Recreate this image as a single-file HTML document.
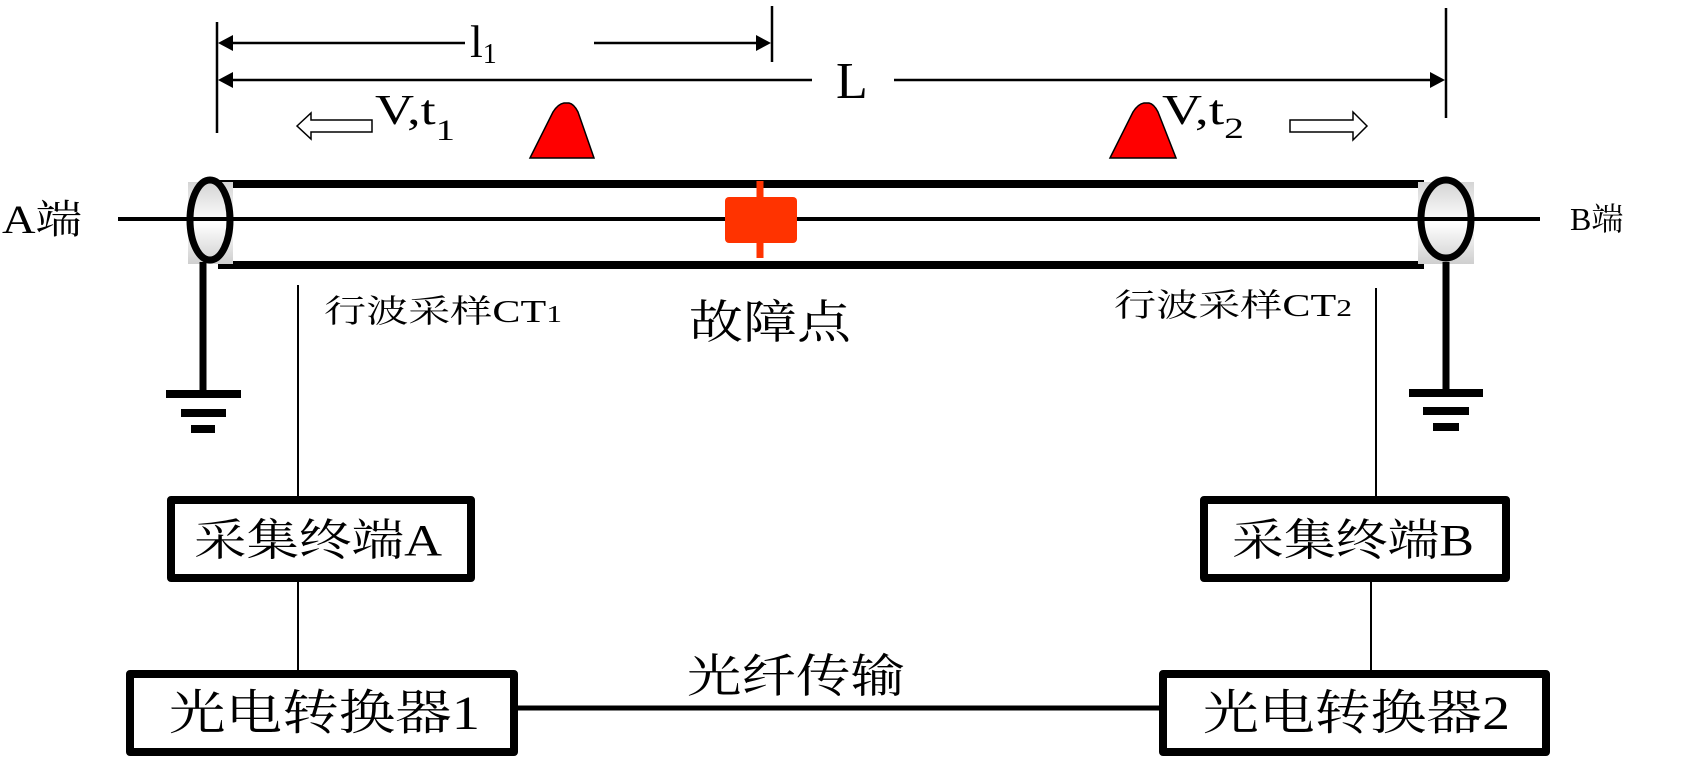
<!DOCTYPE html>
<html><head><meta charset="utf-8"><style>
html,body{margin:0;padding:0;background:#fff;width:1706px;height:757px;overflow:hidden}
text{font-family:"Liberation Serif","Noto Serif CJK SC",serif;fill:#000}
</style></head><body>
<svg width="1706" height="757" viewBox="0 0 1706 757" xmlns="http://www.w3.org/2000/svg">
<defs>
<linearGradient id="g" x1="0" y1="0" x2="0" y2="1"><stop offset="0" stop-color="#d4d4d4"/><stop offset="0.5" stop-color="#fff"/><stop offset="1" stop-color="#cfcfcf"/></linearGradient>
</defs>
<g stroke="#000" stroke-width="2.5" fill="none">
<line x1="217" y1="22" x2="217" y2="133"/>
<line x1="1446" y1="8" x2="1446" y2="118"/>
<line x1="772" y1="6" x2="772" y2="62"/>
<line x1="222" y1="43" x2="465" y2="43"/>
<line x1="594" y1="43" x2="760" y2="43"/>
<line x1="222" y1="80" x2="812" y2="80"/>
<line x1="894" y1="80" x2="1434" y2="80"/>
</g>
<polygon points="218,43 233,35 233,51" fill="#000"/>
<polygon points="218,80 233,72 233,88" fill="#000"/>
<polygon points="771,43 756,35 756,51" fill="#000"/>
<polygon points="1445,80 1430,72 1430,88" fill="#000"/>
<text x="470" y="57" font-size="46">l<tspan font-size="28" dy="6">1</tspan></text>
<text x="836" y="98" font-size="52">L</text>
<polygon points="297,126 311,113 311,120 372,120 372,132 311,132 311,139" fill="#fff" stroke="#000" stroke-width="1.5"/>
<polygon points="1367,126 1353,112 1353,120 1290,120 1290,132 1353,132 1353,140" fill="#fff" stroke="#000" stroke-width="1.5"/>
<text x="375" y="124" font-size="42" textLength="80" lengthAdjust="spacingAndGlyphs">V,t<tspan font-size="30" dy="16">1</tspan></text>
<text x="1162" y="124" font-size="42" textLength="82" lengthAdjust="spacingAndGlyphs">V,t<tspan font-size="30" dy="14">2</tspan></text>
<path d="M530,158 L553,112 Q558,104 564,103 L569,103 Q574,104 578,112 L594,158 Z" fill="#f00" stroke="#000" stroke-width="1.5"/>
<path d="M1110,158 L1133,112 Q1138,104 1144,103 L1149,103 Q1154,104 1158,112 L1176,158 Z" fill="#f00" stroke="#000" stroke-width="1.5"/>
<line x1="218" y1="184" x2="1424" y2="184" stroke="#000" stroke-width="8"/>
<line x1="218" y1="265" x2="1424" y2="265" stroke="#000" stroke-width="8"/>
<line x1="118" y1="219" x2="1540" y2="219" stroke="#000" stroke-width="4"/>
<rect x="188" y="182" width="45" height="82" fill="url(#g)"/>
<line x1="188" y1="219" x2="233" y2="219" stroke="#000" stroke-width="4"/>
<ellipse cx="210" cy="220" rx="20" ry="40" fill="none" stroke="#000" stroke-width="7"/>
<rect x="1418" y="182" width="56" height="82" fill="url(#g)"/>
<line x1="1418" y1="219" x2="1474" y2="219" stroke="#000" stroke-width="4"/>
<ellipse cx="1446" cy="219" rx="25" ry="39" fill="none" stroke="#000" stroke-width="7"/>
<rect x="725" y="197" width="72" height="46" rx="4" fill="#ff3300"/>
<line x1="760" y1="181" x2="760" y2="258" stroke="#ff3300" stroke-width="7"/>
<text x="2" y="233" font-size="40" textLength="80" lengthAdjust="spacingAndGlyphs">A端</text>
<text x="1570" y="230" font-size="32">B端</text>
<g stroke="#000">
<line x1="203" y1="262" x2="203" y2="392" stroke-width="7"/>
<line x1="166" y1="394" x2="241" y2="394" stroke-width="8"/>
<line x1="181" y1="413" x2="226" y2="413" stroke-width="8"/>
<line x1="191" y1="429" x2="215" y2="429" stroke-width="8"/>
<line x1="1446" y1="262" x2="1446" y2="390" stroke-width="7"/>
<line x1="1409" y1="393" x2="1483" y2="393" stroke-width="8"/>
<line x1="1423" y1="411" x2="1469" y2="411" stroke-width="8"/>
<line x1="1433" y1="427" x2="1459" y2="427" stroke-width="8"/>
</g>
<g stroke="#000" stroke-width="2">
<line x1="298" y1="285" x2="298" y2="496"/>
<line x1="1376" y1="288" x2="1376" y2="496"/>
<line x1="298" y1="581" x2="298" y2="671"/>
<line x1="1371" y1="581" x2="1371" y2="671"/>
</g>
<line x1="518" y1="708" x2="1159" y2="708" stroke="#000" stroke-width="5"/>
<text x="324" y="322" font-size="32" textLength="238" lengthAdjust="spacingAndGlyphs">行波采样CT<tspan font-size="24">1</tspan></text>
<text x="1114" y="316" font-size="32" textLength="238" lengthAdjust="spacingAndGlyphs">行波采样CT<tspan font-size="24">2</tspan></text>
<text x="689" y="338" font-size="46" textLength="162" lengthAdjust="spacingAndGlyphs">故障点</text>
<text x="687" y="692" font-size="46" textLength="218" lengthAdjust="spacingAndGlyphs">光纤传输</text>
<g fill="none" stroke="#000" stroke-width="8" stroke-linejoin="round">
<rect x="171" y="500" width="300" height="78"/>
<rect x="1204" y="500" width="302" height="78"/>
<rect x="130" y="674" width="384" height="78"/>
<rect x="1163" y="674" width="383" height="78"/>
</g>
<text x="194" y="555" font-size="44" textLength="248" lengthAdjust="spacingAndGlyphs">采集终端A</text>
<text x="1232" y="555" font-size="44" textLength="242" lengthAdjust="spacingAndGlyphs">采集终端B</text>
<text x="169" y="729" font-size="48" textLength="311" lengthAdjust="spacingAndGlyphs">光电转换器1</text>
<text x="1203" y="729" font-size="48" textLength="307" lengthAdjust="spacingAndGlyphs">光电转换器2</text>
</svg>
</body></html>
